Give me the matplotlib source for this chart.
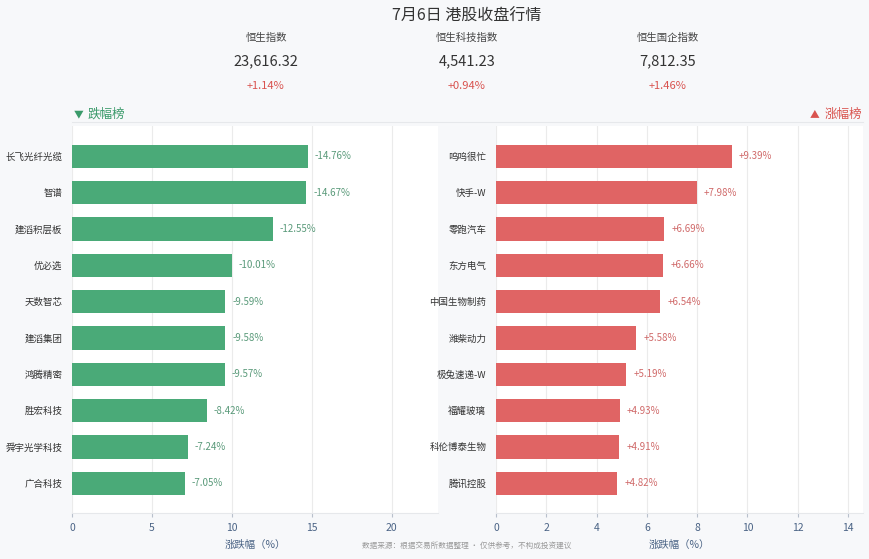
import numpy as np
import matplotlib
matplotlib.use("Agg")
import matplotlib.pyplot as plt

plt.rcParams['font.family'] = ['Noto Sans CJK SC', 'DejaVu Sans']

# data
title = "7月6日 港股收盘行情"
index_names = ["恒生指数", "恒生科技指数", "恒生国企指数"]
index_values = ["23,616.32", "4,541.23", "7,812.35"]
index_changes = ["+1.14%", "+0.94%", "+1.46%"]

fall_names = ["长飞光纤光缆", "智谱", "建滔积层板", "优必选", "天数智芯",
              "建滔集团", "鸿腾精密", "胜宏科技", "舜宇光学科技", "广合科技"]
fall_vals = [14.76, 14.67, 12.55, 10.01, 9.59, 9.58, 9.57, 8.42, 7.24, 7.05]

rise_names = ["呜呜很忙", "快手-W", "零跑汽车", "东方电气", "中国生物制药",
              "潍柴动力", "极兔速递-W", "福耀玻璃", "科伦博泰生物", "腾讯控股"]
rise_vals = [9.39, 7.98, 6.69, 6.66, 6.54, 5.58, 5.19, 4.93, 4.91, 4.82]

bg = "#f7f8fa"
green = "#4aaa78"
red = "#e06464"
tick_col = "#4a6385"

fig = plt.figure(figsize=(8.7, 5.59), dpi=100)
fig.patch.set_facecolor(bg)

W, H = 870.0, 559.0

def fx(px):
    return px / W

def fy(py):
    return 1 - py / H

# header
fig.text(fx(467), fy(16), title, ha="center", va="center", fontsize=11.5, color="#333333")
for cx, nm, v, c in zip([266, 467, 668], index_names, index_values, index_changes):
    fig.text(fx(cx), fy(38), nm, ha="center", va="center", fontsize=7.5, color="#444444")
    fig.text(fx(cx), fy(61), v, ha="center", va="center", fontsize=10.5, color="#333333")
    fig.text(fx(cx), fy(86), c, ha="center", va="center", fontsize=8, color="#d9534f")

# panel headers
fig.text(fx(74), fy(114), "▼", ha="left", va="center", fontsize=7, color="#3a9a6a")
fig.text(fx(88), fy(114), "跌幅榜", ha="left", va="center", fontsize=9, color="#3a9a6a")
fig.text(fx(862), fy(114), "涨幅榜", ha="right", va="center", fontsize=9, color="#d9534f")
fig.text(fx(819), fy(114), "▲", ha="right", va="center", fontsize=7, color="#d9534f")
fig.add_artist(plt.Line2D([fx(72), fx(863)], [fy(121.5), fy(121.5)],
                          color="#e6e8eb", lw=0.8))

def panel(rect, names, vals, color, lab_col, sign, xmax, ticks):
    ax = fig.add_axes(rect)
    ax.set_facecolor("white")
    y = np.arange(len(names))
    ax.barh(y, vals, height=0.64, color=color, zorder=3)
    for yi, v in zip(y, vals):
        ax.annotate(f"{sign}{v:.2f}%", (v, yi), xytext=(5, 0), textcoords="offset points",
                    ha="left", va="center", fontsize=7, color=lab_col, zorder=4)
    ax.set_yticks(y)
    ax.set_yticklabels(names, fontsize=6.8, color="#333333")
    ax.set_ylim(9.82, -0.84)
    ax.set_xlim(0, xmax)
    ax.set_xticks(ticks)
    ax.tick_params(axis="y", length=0, pad=7)
    ax.tick_params(axis="x", length=3, color="#b8c0cc", labelsize=7.5,
                   labelcolor=tick_col, pad=4)
    ax.grid(axis="x", color="#ebebeb", lw=0.8, zorder=0)
    for s in ["top", "right", "left"]:
        ax.spines[s].set_visible(False)
    ax.spines["bottom"].set_color("#e6e8eb")
    ax.set_xlabel("涨跌幅（%）", fontsize=7.5, color=tick_col, labelpad=5)
    return ax

ax_bottom = fy(513)
ax_h = fy(126) - ax_bottom
panel([fx(72), ax_bottom, fx(438) - fx(72), ax_h], fall_names, fall_vals,
      green, "#5a9a7a", "-", 22.9, [0, 5, 10, 15, 20])
panel([fx(496), ax_bottom, fx(863) - fx(496), ax_h], rise_names, rise_vals,
      red, "#d06a6a", "+", 14.6, [0, 2, 4, 6, 8, 10, 12, 14])

fig.text(fx(467), fy(547), "数据来源：根据交易所数据整理 · 仅供参考，不构成投资建议",
         ha="center", va="center", fontsize=5.5, color="#999999")

plt.savefig("out.png", dpi=100, facecolor=fig.get_facecolor())
